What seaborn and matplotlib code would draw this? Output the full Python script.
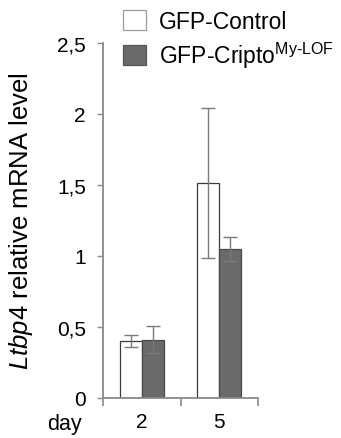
import numpy as np
import pandas as pd
import matplotlib
matplotlib.use("Agg")
import matplotlib.pyplot as plt
import seaborn as sns
from matplotlib.patches import Patch

# data
days = ["2", "5"]
groups = ["GFP-Control", "GFP-Cripto"]
control_mean = [0.40, 1.515]
control_err = [0.043, 0.53]
cripto_mean = [0.41, 1.05]
cripto_err = [0.095, 0.085]
ytick_vals = [0, 0.5, 1, 1.5, 2, 2.5]
ytick_labels = ["0", "0,5", "1", "1,5", "2", "2,5"]

sns.set_style("ticks")
plt.rcParams["font.family"] = ["Liberation Sans", "DejaVu Sans"]
plt.rcParams["mathtext.fontset"] = "custom"
plt.rcParams["mathtext.rm"] = "Liberation Sans"
plt.rcParams["mathtext.it"] = "Liberation Sans:italic"
plt.rcParams["text.color"] = "black"
plt.rcParams["xtick.labelcolor"] = "black"
plt.rcParams["ytick.labelcolor"] = "black"
plt.rcParams["axes.labelcolor"] = "black"

df = pd.DataFrame({
    "day": days * 2,
    "group": [groups[0]] * 2 + [groups[1]] * 2,
    "value": control_mean + cripto_mean,
    "err": control_err + cripto_err,
})

W, H = 341, 439
fig = plt.figure(figsize=(W / 100, H / 100), dpi=100)
ax = fig.add_axes([103 / W, 1 - 399 / H, 155 / W, 355 / H])

gray = "#8a8a8a"
sns.barplot(data=df, x="day", y="value", hue="group", order=days,
            hue_order=groups, palette=["white", "#6a6a6a"], width=0.57,
            errorbar=None, legend=False, ax=ax)

edges = ["#3a3a3a", "#4a4a4a"]
bar_conts = list(ax.containers)
for i, cont in enumerate(bar_conts):
    sub = df[df.group == groups[i]]
    for bar, (_, row) in zip(cont, sub.iterrows()):
        bar.set_edgecolor(edges[i])
        bar.set_linewidth(0.9)
        cx = bar.get_x() + bar.get_width() / 2
        ax.errorbar(cx, row.value, yerr=row.err, color="#7a7a7a",
                    elinewidth=1.0, capsize=5, capthick=1.0, zorder=5)

ax.set_ylim(0, 2.5)
ax.set_xlim(-0.5, 1.5)
ax.set_yticks(ytick_vals)
ax.set_yticklabels(ytick_labels, fontsize=15)
ax.set_xticks([0, 1])
ax.set_xticklabels(days, fontsize=15)
ax.tick_params(axis="x", length=0, pad=10)
ax.tick_params(axis="y", length=4.3, width=1.0, color=gray, pad=8)
ax.set_xticks([-0.5, 0.5, 1.5], minor=True)
ax.tick_params(axis="x", which="minor", length=6, width=1.2, color=gray,
               direction="out")
for s in ["top", "right"]:
    ax.spines[s].set_visible(False)
for s in ["left", "bottom"]:
    ax.spines[s].set_color(gray)
    ax.spines[s].set_linewidth(1.3)

ax.set_xlabel("")
ax.set_ylabel(r"$\it{Ltbp4}$ relative mRNA level", fontsize=18.5)
ax.yaxis.set_label_coords((35 - 103) / 155, 0.5)
fig.text(82 / W, 1 - 430 / H, "day", fontsize=15.5, ha="right", va="baseline")

handles = [Patch(facecolor="white", edgecolor="#9a9a9a", linewidth=0.9),
           Patch(facecolor="#6a6a6a", edgecolor="#555555", linewidth=0.9)]
labels = ["GFP-Control", r"GFP-Cripto$^{\mathrm{My\text{-}LOF}}$"]
fig.legend(handles, labels, loc="upper left",
           bbox_to_anchor=(123 / W, 1 - 11 / H),
           frameon=False, fontsize=16.5, handlelength=1.0, handleheight=0.96,
           handletextpad=0.55, labelspacing=0.3, borderaxespad=0,
           borderpad=0)

fig.savefig("out.png", dpi=100)
